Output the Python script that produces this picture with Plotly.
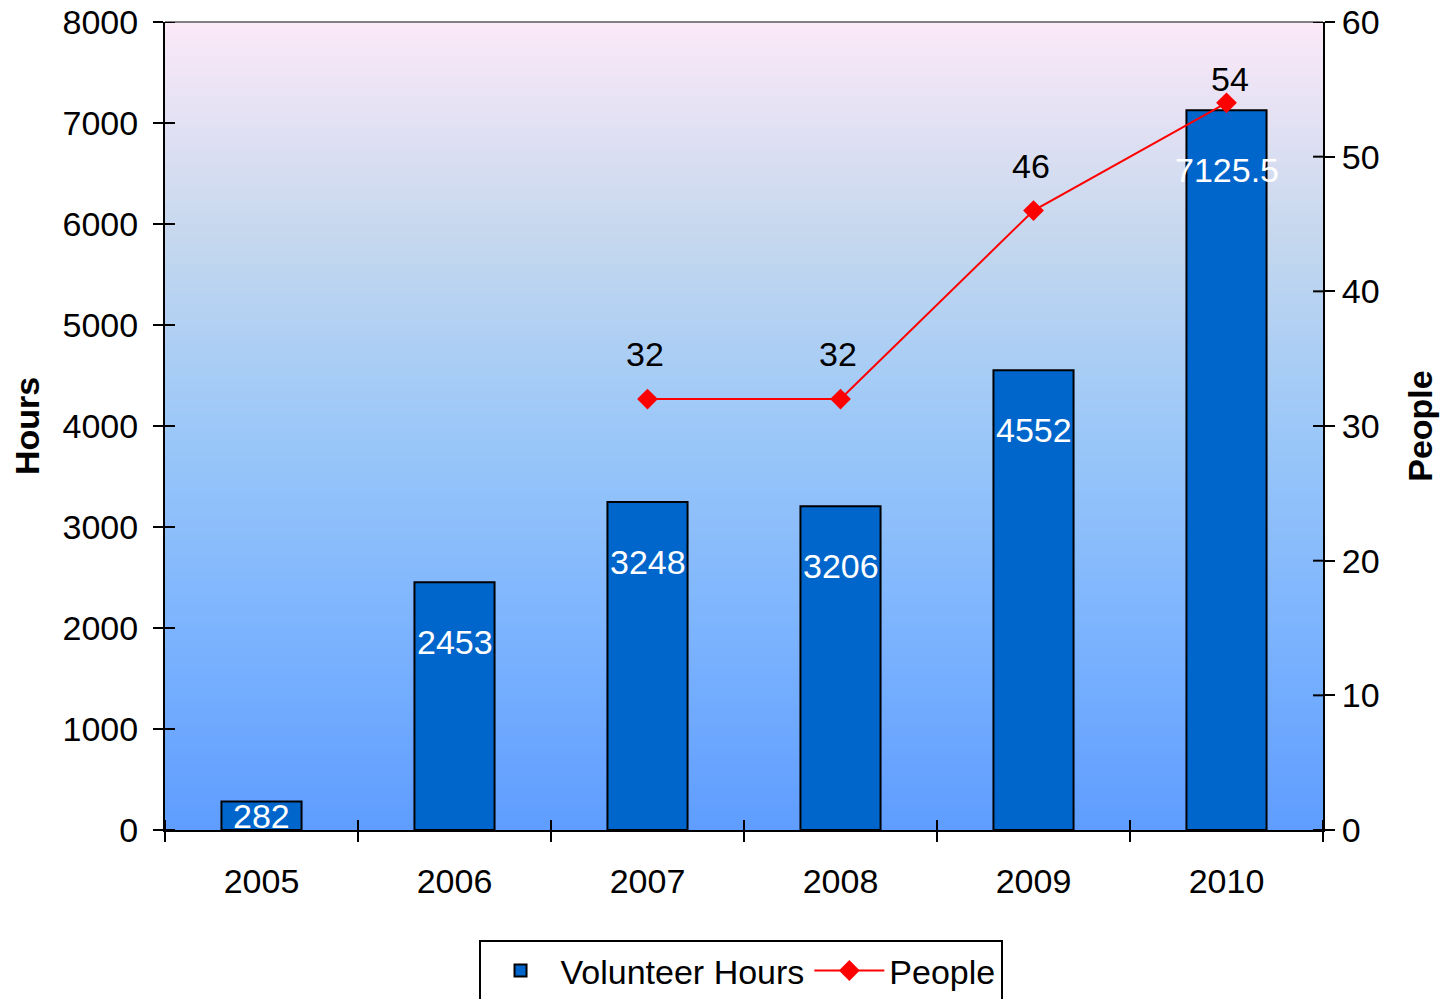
"""Volunteer hours vs people, bars + line on twin axes."""

import plotly.graph_objects as go

YEARS = ["2005", "2006", "2007", "2008", "2009", "2010"]
HOURS = [282, 2453, 3248, 3206, 4552, 7125.5]
PEOPLE_YEARS = ["2007", "2008", "2009", "2010"]
PEOPLE = [32, 32, 46, 54]

HOURS_MAX = 8000
HOURS_STEP = 1000
PEOPLE_MAX = 60
PEOPLE_STEP = 10

FONT = "Liberation Sans, Arial, sans-serif"
FS = 34
BAR_COLOR = "#0066CC"
LINE_COLOR = "#FF0000"

# fond en dégradé rose -> bleu (haut -> bas)
_STOPS = [
    (0.0, (0xFC, 0xE9, 0xF8)),
    (0.26, (0xC6, 0xD8, 0xEE)),
    (0.5, (0x9C, 0xC8, 0xF8)),
    (0.76, (0x7B, 0xB3, 0xFE)),
    (1.0, (0x5E, 0x9D, 0xFF)),
]


def _grad(t):
    for (t0, c0), (t1, c1) in zip(_STOPS, _STOPS[1:]):
        if t <= t1:
            f = (t - t0) / (t1 - t0)
            r, g, b = (round(a + (z - a) * f) for a, z in zip(c0, c1))
            return f"rgb({r},{g},{b})"
    return "rgb(94,157,255)"


N_BANDS = 120
shapes = []
for i in range(N_BANDS):
    top = 1 - i / N_BANDS
    bottom = 1 - (i + 1) / N_BANDS
    shapes.append(
        dict(
            type="rect", xref="x domain", yref="y domain",
            x0=0, x1=1, y0=bottom - 0.001, y1=top,
            fillcolor=_grad((i + 0.5) / N_BANDS), line_width=0, layer="below",
        )
    )
# bord supérieur gris
shapes.append(
    dict(type="line", xref="x domain", yref="y domain", x0=0, x1=1, y0=1, y1=1,
         line=dict(color="#808080", width=2))
)
# moitié intérieure des graduations (les graduations traversent l'axe)
tick_line = dict(color="black", width=2)
for k in range(0, HOURS_MAX + 1, HOURS_STEP):
    shapes.append(dict(type="line", xref="x domain", yref="y", x0=0, x1=0.0086,
                       y0=k, y1=k, line=tick_line))
for k in range(0, PEOPLE_MAX + 1, PEOPLE_STEP):
    shapes.append(dict(type="line", xref="x domain", yref="y2", x0=0.9914, x1=1,
                       y0=k, y1=k, line=tick_line))
for i in range(len(YEARS) + 1):
    shapes.append(dict(type="line", xref="x", yref="y domain", x0=i - 0.5, x1=i - 0.5,
                       y0=0, y1=0.0124, line=tick_line))

fig = go.Figure()
fig.add_trace(
    go.Bar(
        x=YEARS, y=HOURS, name="Volunteer Hours", width=0.415,
        marker=dict(color=BAR_COLOR, line=dict(color="black", width=2)),
        hoverinfo="x+y",
    )
)
fig.add_trace(
    go.Scatter(
        x=PEOPLE_YEARS, y=PEOPLE, name="People", yaxis="y2", mode="lines+markers",
        line=dict(color=LINE_COLOR, width=2),
        marker=dict(symbol="diamond", size=16, color=LINE_COLOR),
    )
)

# sur un axe catégoriel, les annotations se placent par l'indice de la catégorie
PLOT_H = 808
annotations = []
for idx, h in enumerate(HOURS):
    px_h = h / HOURS_MAX * PLOT_H
    annotations.append(
        dict(x=idx, y=h, xref="x", yref="y", text=f"{h:g}", showarrow=False,
             yshift=-min(60, px_h / 2), font=dict(color="white", size=FS, family=FONT))
    )
for year, p in zip(PEOPLE_YEARS, PEOPLE):
    annotations.append(
        dict(x=YEARS.index(year), y=p, xref="x", yref="y2", text=str(p),
             showarrow=False, yshift=45 if p < 50 else 24, xshift=-3 if p < 50 else 3,
             font=dict(color="black", size=FS, family=FONT))
    )

axis_common = dict(
    showline=True, linecolor="black", linewidth=2, ticks="outside",
    tickcolor="black", tickwidth=2, ticklen=10, showgrid=False, zeroline=False,
    tickfont=dict(size=FS, family=FONT, color="black"), ticklabeloverflow="allow",
)

fig.update_layout(
    width=1447, height=999,
    paper_bgcolor="white", plot_bgcolor="#5E9DFF",
    font=dict(family=FONT, size=FS, color="black"),
    margin=dict(l=165, r=124, t=22, b=169, autoexpand=False),
    shapes=shapes, annotations=annotations,
    xaxis=dict(
        **axis_common, type="category", categoryorder="array", categoryarray=YEARS,
        tickson="boundaries", range=[-0.5, 5.5], ticklabelstandoff=20,
    ),
    yaxis=dict(
        **axis_common, range=[0, HOURS_MAX], dtick=HOURS_STEP, ticklabelstandoff=8,
        title=dict(text="<b>Hours</b>", font=dict(size=FS, family=FONT), standoff=13),
    ),
    yaxis2=dict(
        **axis_common, range=[0, PEOPLE_MAX], dtick=PEOPLE_STEP, overlaying="y",
        side="right", ticklabelstandoff=0,
        title=dict(text="<b>People</b>", font=dict(size=FS, family=FONT), standoff=30),
    ),
    legend=dict(
        orientation="h", x=0.497, xanchor="center", y=-0.136, yanchor="top",
        bgcolor="white", bordercolor="black", borderwidth=2,
        font=dict(size=FS, family=FONT), traceorder="normal", itemwidth=70,
    ),
    showlegend=True,
)

# la figure occupe toute la fenêtre, sans la marge par défaut de la page
fig.write_html(
    "out.html",
    config={"displayModeBar": False},
    post_script="document.body.style.margin = '0';",
)
